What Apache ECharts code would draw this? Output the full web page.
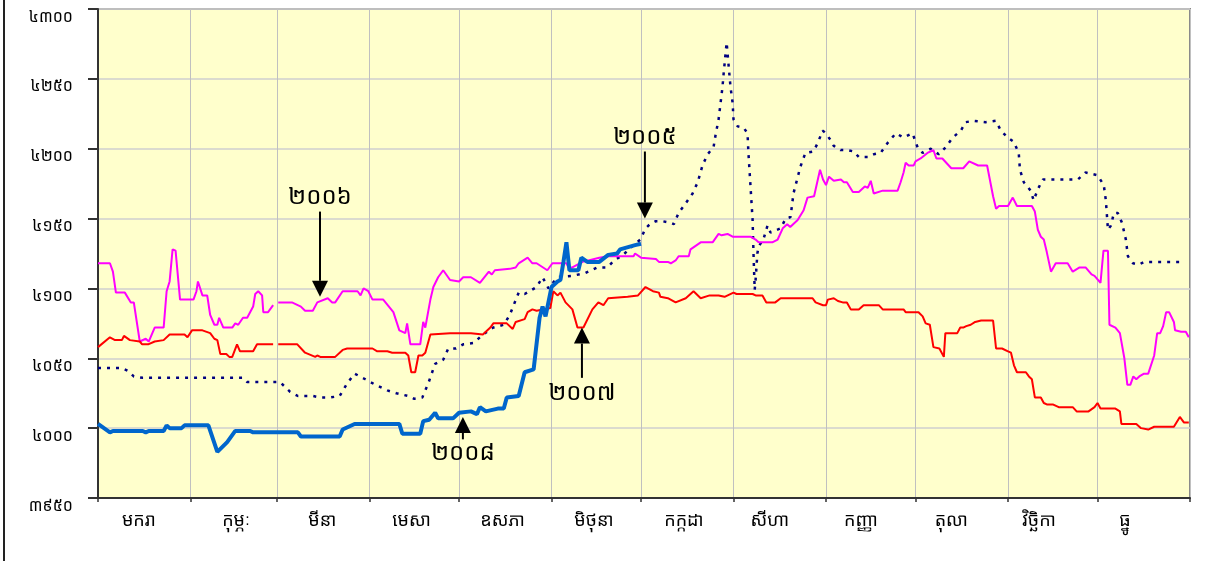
<!DOCTYPE html>
<html><head><meta charset="utf-8">
<script src="https://cdn.jsdelivr.net/npm/echarts@6/dist/echarts.min.js"></script>
<style>html,body{margin:0;padding:0;background:#fff}#c{width:1208px;height:561px}</style>
</head><body><div id="c"></div><script>
const months = ['មករា','កុម្ភៈ','មីនា','មេសា','ឧសភា','មិថុនា','កក្កដា','សីហា','កញ្ញា','តុលា','វិច្ឆិកា','ធ្នូ'];
const monthStarts = [0,31,60,91,121,152,182,213,244,274,305,335,366];
const seriesNames = ['២០០៥','២០០៦','២០០៧','២០០៨'];
const khmerDigits = '០១២៣៤៥៦៧៨៩';

// [day of year, value]
const d2005 = [[0,4043],[8,4043],[10,4041],[12,4037],[15,4036],[48.6,4036],[50,4033],[61,4033],[64.4,4026],[67,4023],[72,4023],[74.5,4022],[78,4022],[81,4023],[83.5,4032],[86,4039],[89.6,4035],[93,4031],[97,4027],[100,4025],[104,4023],[106,4021],[108.7,4022],[110.7,4032],[112,4040],[113,4046],[115.7,4049],[117.4,4057],[120,4057],[122.4,4060],[126,4061],[129,4067],[132.5,4072],[136,4074],[138,4081],[141,4097],[143,4096],[147,4101],[149,4108],[151,4100],[154,4108],[159,4109],[163.3,4111],[167.3,4115],[170.7,4115],[173,4120],[176,4124],[179.5,4131],[181.8,4135],[183.5,4143],[185,4146],[186.8,4148],[189.5,4148],[191.9,4147],[193,4146],[194.6,4154],[197,4161],[199.3,4168],[201,4176],[202.6,4188],[204.3,4196],[206.3,4201],[207,4210],[208,4221],[209.3,4244],[209.7,4254],[210.7,4276],[211.3,4261],[212,4244],[212.7,4233],[213,4221],[214.4,4216],[216.4,4215],[217.7,4211],[218,4197],[218.7,4173],[219.4,4149],[219.7,4125],[220.1,4099],[220.4,4106],[221,4125],[221.4,4130],[223,4135],[224.4,4145],[225.4,4140],[228.8,4143],[230.5,4150],[232.1,4151],[233.1,4168],[235.4,4187],[237.1,4197],[239.8,4198],[241.2,4204],[242.9,4213],[243.9,4211],[245.6,4206],[246.6,4202],[248.9,4199],[251.3,4199],[253.3,4198],[255,4194],[258,4194],[260,4196],[262.3,4197],[264.6,4204],[267.4,4211],[270,4208],[273,4211],[274.7,4201],[276.4,4197],[279.1,4200],[281.8,4196],[284.1,4201],[286.5,4208],[289.2,4213],[290.8,4219],[293.5,4220],[297.5,4219],[300.9,4220],[302.6,4213],[304.9,4208],[306.9,4205],[308.6,4197],[309,4185],[310.3,4176],[312.6,4170],[313.6,4163],[315,4171],[316.7,4178],[328.4,4178],[331,4183],[335,4181],[337.1,4174],[337.8,4163],[338.5,4142],[339.5,4145],[340.5,4154],[341.8,4154],[343.2,4147],[344.5,4135],[345.2,4123],[346.9,4118],[348.9,4117],[350.6,4119],[364,4119]];

const d2006 = [[0,4118],[4,4118],[5,4112],[6,4097],[9,4097],[11,4090],[12,4090],[14,4062],[16,4064],[17,4062],[19,4072],[22,4072],[23,4098],[24,4105],[25,4128],[26,4127],[27.5,4092],[32,4092],[33,4098],[33.5,4105],[35,4095],[36.6,4095],[37.6,4081],[39,4074],[40,4074],[40.6,4079],[42,4072],[45,4072],[46,4075],[47,4074],[48.6,4079],[50,4079],[52,4087],[52.7,4096],[53.7,4098],[55,4095],[55.4,4083],[57,4083],[58.7,4088],[59.5,null],[60.4,4090],[65,4090],[68,4087],[69.4,4084],[72,4084],[73.5,4090],[77,4093],[78.5,4090],[79.5,4090],[82,4098],[87,4098],[88,4095],[89,4100],[90.6,4098],[92,4092],[95.6,4092],[99,4083],[101,4070],[103,4068],[103.6,4075],[104.7,4060],[108,4060],[109,4076],[109.7,4072],[111.4,4092],[112.4,4101],[114,4108],[115.7,4113],[118,4106],[121,4105],[122.4,4108],[125,4108],[128,4104],[131,4112],[132,4110],[133,4113],[138,4114],[140,4115],[141,4118],[144,4122],[145.6,4118],[147,4118],[150.6,4113],[152.3,4118],[157,4118],[157.7,4115],[159,4115],[162.4,4119],[168,4122],[171,4123],[179.5,4123],[180,4125],[182,4122],[187,4121],[188,4119],[191,4119],[192,4118],[193.6,4120],[194.6,4123],[198,4123],[198.6,4128],[202,4133],[206,4133],[208,4139],[209,4138],[211,4139],[212.7,4137],[218.7,4137],[220.4,4135],[221.4,4133],[226,4133],[227.8,4135],[229.5,4143],[231,4146],[232,4144],[234.5,4149],[236.5,4156],[237.8,4165],[240,4166],[242,4185],[243,4178],[244,4174],[245,4180],[246.6,4177],[249,4178],[250,4176],[251,4176],[253,4169],[255,4169],[257,4173],[258,4172],[259,4177],[260,4168],[263,4170],[268,4170],[269,4176],[270,4183],[270.7,4190],[271.7,4188],[273.4,4188],[274,4191],[275.7,4193],[278,4197],[279,4198],[280,4199],[281,4193],[283,4193],[286,4186],[288,4186],[290,4186],[292,4191],[295,4188],[298,4188],[300,4166],[301,4157],[302,4159],[305,4159],[306.6,4165],[308,4159],[313,4159],[314,4155],[315,4142],[316,4137],[317,4135],[318,4126],[319.4,4112],[321,4118],[325,4118],[326.7,4112],[329,4115],[331,4115],[333,4110],[334,4109],[336,4104],[337,4127],[338.5,4127],[339,4074],[341,4072],[342.5,4068],[344,4050],[345,4031],[346,4031],[347,4037],[348,4035],[349,4037],[350.6,4039],[352,4039],[354,4052],[355,4068],[356,4068],[357,4073],[358,4083],[359,4083],[360.6,4076],[361,4070],[363,4069],[364.6,4069],[365.6,4065]];

const d2007 = [[0,4058],[4,4065],[5.7,4063],[8,4063],[8.7,4066],[10.7,4063],[14,4062],[14.8,4060],[16.8,4060],[19,4062],[22,4063],[24,4067],[29,4067],[30,4065],[31.5,4070],[35,4070],[37.6,4068],[39,4064],[40,4063],[41,4053],[43,4053],[44,4051],[45,4051],[46.6,4060],[47.6,4055],[52,4055],[53.3,4060],[58.7,4060],[59.5,null],[60.4,4060],[66.8,4060],[69.4,4054],[72.8,4051],[73.5,4052],[74.5,4051],[79.5,4051],[82,4056],[83.5,4057],[92,4057],[93.6,4055],[97,4055],[98.6,4054],[103,4054],[104,4052],[105,4040],[106.3,4040],[107.4,4052],[108.7,4052],[109.7,4054],[111.4,4067],[118,4068],[125,4068],[129,4067],[131.5,4072],[132.5,4075],[137,4075],[139,4071],[140,4076],[143,4078],[144,4083],[145.6,4085],[147,4084],[151.6,4086],[152.6,4098],[154,4095],[155,4097],[156.7,4090],[159,4085],[160.7,4072],[162.7,4072],[165.7,4085],[167.7,4090],[169.4,4088],[171,4093],[177.5,4094],[181,4095],[183.5,4101],[186,4098],[188,4097],[188.5,4094],[191,4093],[193.6,4090],[197,4093],[199.6,4098],[202,4093],[205,4095],[208,4095],[210,4094],[213,4097],[214,4096],[219.4,4096],[220.4,4095],[222.7,4095],[224,4090],[227,4090],[228.8,4093],[239.5,4093],[240.5,4090],[243,4088],[244,4088],[244.6,4092],[246.6,4093],[248,4091],[249.6,4090],[251,4090],[252.3,4085],[255,4085],[256.6,4088],[261.7,4088],[263,4085],[270,4085],[270.7,4083],[275,4083],[276.4,4080],[277.4,4075],[278.8,4074],[280,4058],[282,4057],[283.5,4051],[284,4068],[288,4068],[289,4072],[290,4072],[291,4073],[292.5,4074],[294,4076],[296,4077],[300,4077],[301,4057],[303,4057],[305,4055],[306,4054],[307,4045],[308,4040],[311,4040],[312,4037],[313,4035],[314,4022],[316,4022],[317,4018],[318,4017],[320,4017],[322,4015],[326.7,4015],[328,4012],[332,4012],[334,4015],[335,4018],[336,4014],[341,4014],[342.5,4012],[343,4003],[348,4003],[349.6,4000],[352,3999],[354,4001],[360.6,4001],[362.6,4008],[364,4004],[365.6,4004]];

const d2008 = [[0,4003],[4,3997],[5,3998],[15,3998],[16,3997],[17,3998],[22,3998],[23,4002],[24,4000],[28,4000],[29,4002],[37,4002],[40,3983],[43.3,3990],[46,3998],[51,3998],[52,3997],[67,3997],[68,3994],[81,3994],[82,3999],[86,4003],[99,4003],[101,4003],[102,3996],[108,3996],[109,4005],[111,4006],[113,4011],[114,4007],[119,4007],[121,4011],[125,4012],[127,4010],[128,4015],[130,4012],[134,4014],[136,4014],[137,4022],[141,4023],[143,4040],[146,4042],[148,4079],[149,4087],[150,4080],[152,4101],[154,4105],[155,4106],[156,4119],[157,4133],[158,4113],[161,4113],[162,4122],[164,4119],[168,4119],[171,4124],[174,4125],[175,4128],[180,4131],[182,4132]];

// annotation arrows: label, day, text value, arrow start value, arrow tip value
const annotations = [
  {label:'២០០៦', day:74.4, textAt:4165, from:4155, to:4094},
  {label:'២០០៥', day:183.3, textAt:4208, from:4198, to:4150},
  {label:'២០០៧', day:162.2, textAt:4025, from:4036, to:4072},
  {label:'២០០៨', day:122.3, textAt:3982, from:3992, to:4008}
];

// layout: where each month name sits along the day axis
const monthLabelDays = [13.7,46.3,75.2,105.1,135.6,166.2,196.4,225.2,255.7,286,315.4,344.2];

const FONT = "'Khmer OS', 'Noto Sans Khmer', 'Khmer OS System', 'Noto Sans', 'DejaVu Sans', sans-serif";
const toKhmer = s => String(s).replace(/[0-9]/g, c => khmerDigits[+c]);

const chart = echarts.init(document.getElementById('c'), null, {renderer:'canvas'});
const lineSeries = (name, data, style, z) => ({
  name, type:'line', data, showSymbol:false, symbol:'none', connectNulls:false,
  lineStyle:style, z, silent:true, animation:false
});
chart.setOption({
  animation:false,
  backgroundColor:'#ffffff',
  grid:{left:98, right:18, top:9, bottom:63, show:true, backgroundColor:'#FFFFCC', borderColor:'#8a8a8a', borderWidth:2},
  xAxis:{
    type:'value', min:0, max:366,
    axisLine:{show:true, onZero:false, lineStyle:{color:'#333', width:2}},
    axisTick:{show:true, customValues:monthStarts, length:4, lineStyle:{color:'#333', width:1.5}},
    axisLabel:{show:true, customValues:monthLabelDays, margin:14, fontSize:18, color:'#000', fontFamily:FONT,
      formatter:v => { const i = monthLabelDays.findIndex(m => Math.abs(m - v) < 0.01); return i >= 0 ? months[i] : ''; }},
    splitLine:{show:true, lineStyle:{color:'#c0c0c0', width:1}}
  },
  yAxis:{
    type:'value', min:3950, max:4300, interval:50,
    axisLine:{show:true, onZero:false, lineStyle:{color:'#333', width:2}},
    axisTick:{show:true, length:10, lineStyle:{color:'#333', width:2}},
    axisLabel:{margin:25, fontSize:16, color:'#000', fontFamily:FONT, verticalAlign:'top', lineHeight:16, formatter:v => toKhmer(v)},
    splitLine:{show:true, lineStyle:{color:'#cfcfcf', width:1.5}}
  },
  series:[
    lineSeries(seriesNames[0], d2005, {color:'#000080', width:2.5, type:[3,6]}, 2),
    lineSeries(seriesNames[1], d2006, {color:'#FF00FF', width:2}, 3),
    lineSeries(seriesNames[2], d2007, {color:'#FF0000', width:2}, 4),
    lineSeries(seriesNames[3], d2008, {color:'#0066CC', width:4}, 5)
  ]
});

const g = [{type:'line', shape:{x1:4, y1:0, x2:4, y2:561}, style:{stroke:'#222', lineWidth:2}, z:100}];
annotations.forEach(a => {
  const p0 = chart.convertToPixel({gridIndex:0}, [a.day, a.from]);
  const p1 = chart.convertToPixel({gridIndex:0}, [a.day, a.to]);
  const pt = chart.convertToPixel({gridIndex:0}, [a.day, a.textAt]);
  const dir = Math.sign(p1[1] - p0[1]);
  const head = 16, half = 8;
  g.push({type:'line', z:100, shape:{x1:p0[0], y1:p0[1], x2:p1[0], y2:p1[1] - dir*head}, style:{stroke:'#000', lineWidth:2}});
  g.push({type:'polygon', z:100, shape:{points:[[p1[0], p1[1]], [p1[0]-half, p1[1]-dir*head], [p1[0]+half, p1[1]-dir*head]]}, style:{fill:'#000'}});
  g.push({type:'text', z:100, x:pt[0], y:pt[1], style:{text:a.label, fill:'#000', fontSize:24, fontFamily:FONT, align:'center', verticalAlign:'middle'}});
});
chart.setOption({graphic:g});
</script></body></html>
